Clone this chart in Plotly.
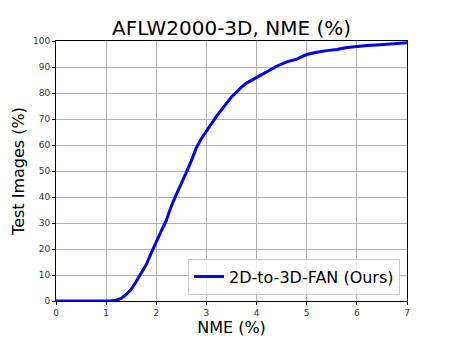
import plotly.graph_objects as go

# NME thresholds (%) and cumulative share of test images (%)
nme = [0.0, 0.5, 1.0, 1.1, 1.2, 1.3, 1.4, 1.5, 1.6, 1.7, 1.8, 1.9, 2.0,
       2.1, 2.2, 2.3, 2.4, 2.5, 2.6, 2.7, 2.8, 2.9, 3.0, 3.1, 3.2, 3.3,
       3.4, 3.5, 3.6, 3.7, 3.8, 4.0, 4.2, 4.4, 4.6, 4.8, 5.0, 5.2, 5.4,
       5.6, 5.8, 6.0, 6.2, 6.4, 6.6, 6.8, 7.0]
test_images = [0.0, 0.0, 0.0, 0.1, 0.3, 1.0, 2.5, 4.5, 7.5, 10.5, 14.0,
               18.5, 23.0, 27.0, 31.0, 36.5, 41.0, 45.0, 49.5, 54.0, 59.0,
               62.5, 65.5, 68.5, 71.0, 73.5, 76.0, 78.5, 80.3, 82.3, 83.8,
               86.0, 88.0, 90.3, 92.0, 93.0, 94.8, 95.7, 96.3, 96.7, 97.5,
               98.0, 98.3, 98.5, 98.8, 99.2, 99.3]

x_ticks = [0, 1, 2, 3, 4, 5, 6, 7]
y_ticks = [0, 10, 20, 30, 40, 50, 60, 70, 80, 90, 100]

_FONT = "DejaVu Sans"

fig = go.Figure(
    go.Scatter(
        x=nme,
        y=test_images,
        mode="lines",
        line=dict(color="#0000ff", width=3),
        name="2D-to-3D-FAN (Ours)",
    )
)

axis_common = dict(
    showgrid=True,
    gridcolor="#b0b0b0",
    gridwidth=1,
    showline=True,
    linecolor="black",
    linewidth=1,
    mirror=True,
    ticks="outside",
    ticklen=3,
    tickcolor="black",
    tickfont=dict(size=9, color="#333333", family=_FONT),
    zeroline=False,
    automargin=False,
)

fig.update_layout(
    width=452,
    height=339,
    paper_bgcolor="white",
    plot_bgcolor="white",
    margin=dict(l=56, r=45, t=41, b=38),
    font=dict(family=_FONT, color="black"),
    title=dict(
        text="AFLW2000-3D, NME (%)",
        xref="paper",
        x=0.5,
        xanchor="center",
        y=0.918,
        yanchor="middle",
        font=dict(size=20, family=_FONT, color="black"),
        automargin=False,
    ),
    xaxis=dict(
        range=[0, 7],
        tickvals=x_ticks,
        title=dict(text="NME (%)", font=dict(size=16, family=_FONT), standoff=2),
        **axis_common,
    ),
    yaxis=dict(
        range=[0, 100],
        tickvals=y_ticks,
        title=dict(text="Test Images (%)", font=dict(size=16, family=_FONT), standoff=4),
        **axis_common,
    ),
    showlegend=True,
    legend=dict(
        x=0.98,
        y=0.025,
        xanchor="right",
        yanchor="bottom",
        bgcolor="rgba(255,255,255,0.8)",
        bordercolor="#cccccc",
        borderwidth=1,
        tracegroupgap=0,
        font=dict(size=16, family=_FONT, color="black"),
    ),
)

# page body has a default margin; drop it so the figure sits at the corner
fig.write_html(
    "out.html",
    config={"displayModeBar": False},
    post_script="document.body.style.margin='0';",
)
